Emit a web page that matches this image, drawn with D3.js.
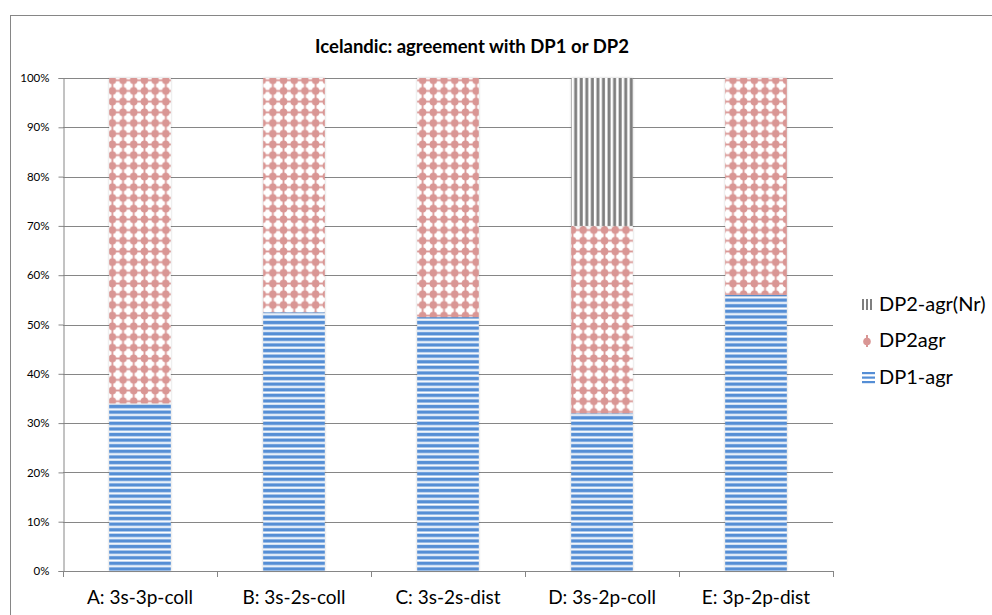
<!DOCTYPE html>
<html>
<head>
<meta charset="utf-8">
<script src="https://cdn.jsdelivr.net/npm/d3@7/dist/d3.min.js"></script>
<style>
  body { margin: 0; background: #fff; }
  svg { display: block; font-family: Lato, "Open Sans", sans-serif; }
</style>
</head>
<body>
<svg width="992" height="615"></svg>
<script>
// data (percent of responses)
const categories = ["A: 3s-3p-coll", "B: 3s-2s-coll", "C: 3s-2s-dist", "D: 3s-2p-coll", "E: 3p-2p-dist"];
const dp1Agr = [34, 52.5, 51.5, 32, 56];
const dp2Agr = [66, 47.5, 48.5, 38, 44];
const dp2AgrNr = [0, 0, 0, 30, 0];
const seriesNames = ["DP1-agr", "DP2agr", "DP2-agr(Nr)"];
const yTicks = [0, 0.1, 0.2, 0.3, 0.4, 0.5, 0.6, 0.7, 0.8, 0.9, 1];

const svg = d3.select("svg");
const margin = { left: 63, right: 833, top: 78, bottom: 571 };

const rows = categories.map((c, i) => ({
    cat: c,
    "DP1-agr": dp1Agr[i] / 100,
    "DP2agr": dp2Agr[i] / 100,
    "DP2-agr(Nr)": dp2AgrNr[i] / 100
}));
const stacked = d3.stack().keys(seriesNames)(rows);

const x = d3.scaleBand().domain(categories)
    .range([margin.left, margin.right])
    .paddingInner(0.6).paddingOuter(0.3);
const y = d3.scaleLinear().domain([0, 1]).range([margin.bottom, margin.top]);

// patterns
const defs = svg.append("defs");

const pStripeH = defs.append("pattern").attr("id", "p-dp1")
    .attr("patternUnits", "userSpaceOnUse").attr("width", 10).attr("height", 5.6);
pStripeH.append("rect").attr("width", 10).attr("height", 5.6).attr("fill", "#fff");
pStripeH.append("rect").attr("y", 1.6).attr("width", 10).attr("height", 3.5).attr("fill", "#558ed5");

const pStripeV = defs.append("pattern").attr("id", "p-nr")
    .attr("patternUnits", "userSpaceOnUse").attr("width", 5.56).attr("height", 10);
pStripeV.append("rect").attr("width", 5.56).attr("height", 10).attr("fill", "#fff");
pStripeV.append("rect").attr("x", 1.5).attr("width", 3).attr("height", 10).attr("fill", "#7f7f7f");

const dotP = 10.7;
const pDots = defs.append("pattern").attr("id", "p-dp2")
    .attr("patternUnits", "userSpaceOnUse").attr("width", dotP).attr("height", dotP);
pDots.append("rect").attr("width", dotP).attr("height", dotP).attr("fill", "#fff");
pDots.append("circle").attr("cx", dotP / 2).attr("cy", dotP / 2).attr("r", 3.8).attr("fill", "#d99694");
pDots.append("rect").attr("x", dotP / 2 - 0.9).attr("y", 0).attr("width", 1.8).attr("height", dotP).attr("fill", "#d99694");
pDots.append("rect").attr("x", 0).attr("y", dotP / 2 - 0.9).attr("width", dotP).attr("height", 1.8).attr("fill", "#d99694");

const fillFor = { "DP1-agr": "url(#p-dp1)", "DP2agr": "url(#p-dp2)", "DP2-agr(Nr)": "url(#p-nr)" };

const shadow = defs.append("filter").attr("id", "shadow")
    .attr("x", "-10%").attr("y", "-2%").attr("width", "120%").attr("height", "104%");
shadow.append("feDropShadow").attr("dx", 0).attr("dy", 0).attr("stdDeviation", 1.2)
    .attr("flood-color", "#000").attr("flood-opacity", 0.22);

// outer chart border
svg.append("rect").attr("x", 10.5).attr("y", 15.5).attr("width", 1000).attr("height", 700)
    .attr("fill", "none").attr("stroke", "#868686").attr("stroke-width", 1);

// title
svg.append("text").attr("x", 472).attr("y", 53).attr("text-anchor", "middle")
    .attr("font-size", 18.5).attr("font-weight", "bold").attr("fill", "#000")
    .text("Icelandic: agreement with DP1 or DP2");

// gridlines
svg.append("g").selectAll("line").data(yTicks.slice(1)).join("line")
    .attr("x1", margin.left).attr("x2", margin.right)
    .attr("y1", d => Math.round(y(d)) + 0.5).attr("y2", d => Math.round(y(d)) + 0.5)
    .attr("stroke", "#868686").attr("stroke-width", 1);

// y axis
const yAxis = svg.append("g").attr("transform", `translate(${margin.left + 0.5},0)`)
    .call(d3.axisLeft(y).tickValues(yTicks).tickFormat(d3.format(".0%")).tickSizeOuter(0).tickSize(5));
yAxis.select(".domain").attr("stroke", "#868686");
yAxis.selectAll(".tick line").attr("stroke", "#868686");
yAxis.selectAll(".tick text").attr("font-family", "Lato, sans-serif").attr("font-size", 11.5)
    .attr("fill", "#000").attr("x", -14);

// bars
svg.append("g").selectAll("g").data(stacked).join("g")
    .attr("fill", d => fillFor[d.key])
    .selectAll("rect").data(d => d.filter(s => s[1] - s[0] > 0)).join("rect")
    .attr("x", d => x(d.data.cat))
    .attr("width", x.bandwidth())
    .attr("y", d => y(d[1]))
    .attr("height", d => y(d[0]) - y(d[1]))
    .attr("filter", "url(#shadow)");

// x axis
const step = x.step();
const bounds = categories.map(c => x(c) + x.bandwidth() / 2 - step / 2);
bounds.push(margin.right);
const xg = svg.append("g");
xg.append("line").attr("x1", margin.left).attr("x2", margin.right)
    .attr("y1", margin.bottom + 0.5).attr("y2", margin.bottom + 0.5).attr("stroke", "#868686");
xg.selectAll("line.tick").data(bounds).join("line").attr("class", "tick")
    .attr("x1", d => Math.round(d) + 0.5).attr("x2", d => Math.round(d) + 0.5)
    .attr("y1", margin.bottom).attr("y2", margin.bottom + 6).attr("stroke", "#868686");
xg.selectAll("text").data(categories).join("text")
    .attr("x", d => x(d) + x.bandwidth() / 2).attr("y", 604)
    .attr("text-anchor", "middle").attr("font-size", 19).attr("fill", "#000")
    .text(d => d);

// legend
const legendItems = [
    { key: "DP2-agr(Nr)", y: 311 },
    { key: "DP2agr", y: 347 },
    { key: "DP1-agr", y: 384 }
];
const lg = svg.append("g");
legendItems.forEach(it => {
    const sy = it.y - 12;
    if (it.key === "DP2-agr(Nr)") {
        [862, 866, 870].forEach(sx => lg.append("rect").attr("x", sx).attr("y", sy)
            .attr("width", 2).attr("height", 11).attr("fill", "#7f7f7f"));
    } else if (it.key === "DP2agr") {
        lg.append("circle").attr("cx", 867).attr("cy", sy + 6.5).attr("r", 3.8).attr("fill", "#d99694");
        lg.append("rect").attr("x", 866).attr("y", sy).attr("width", 2).attr("height", 12).attr("fill", "#d99694");
    } else {
        [0, 4.5, 9].forEach(dy => lg.append("rect").attr("x", 862).attr("y", sy + dy)
            .attr("width", 13).attr("height", 2.2).attr("fill", "#558ed5"));
    }
    lg.append("text").attr("x", 879).attr("y", it.y).attr("font-size", 20).attr("fill", "#000")
        .text(it.key);
});
</script>
</body>
</html>
